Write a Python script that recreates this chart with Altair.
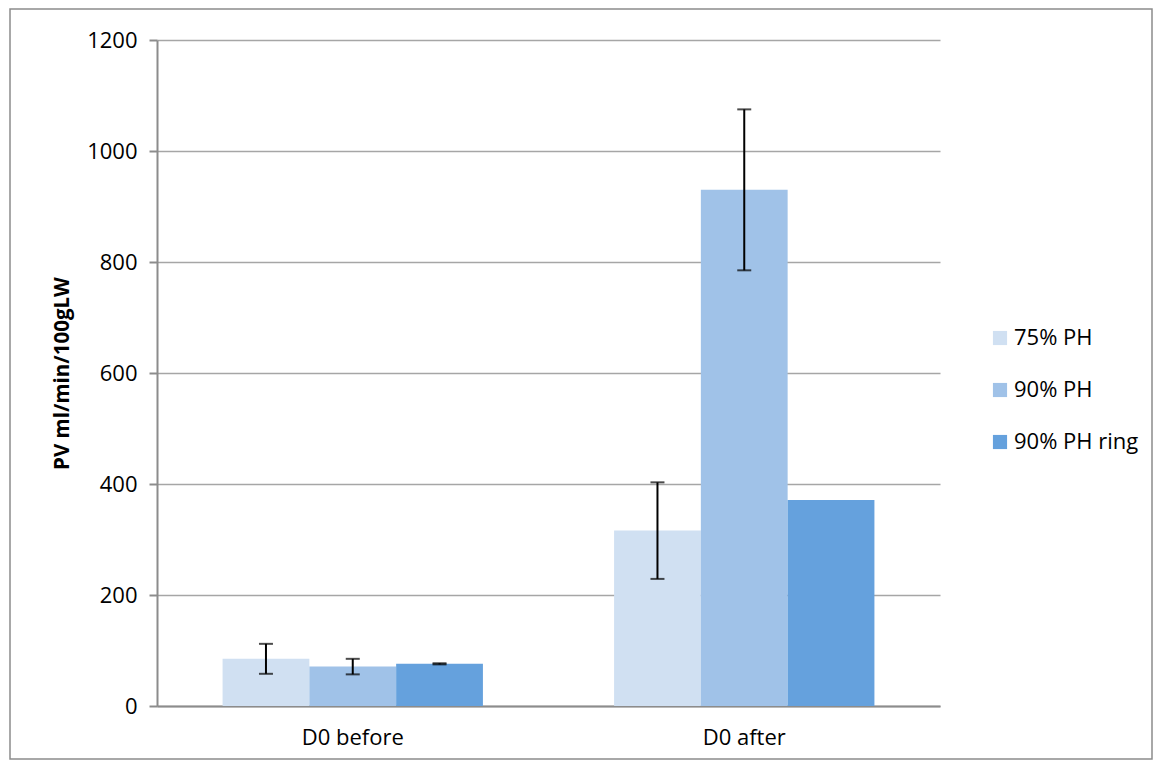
import altair as alt
import pandas as pd

groups = ["D0 before", "D0 after"]
series = ["75% PH", "90% PH", "90% PH ring"]
colors = ["#D0E0F2", "#A0C2E8", "#65A1DD"]
before_vals = [85, 71, 76]
after_vals = [316, 930, 371]
before_err = [27, 14, 1]
after_err = [87, 145, 0]

rows = []
for g, vals, errs in [(groups[0], before_vals, before_err), (groups[1], after_vals, after_err)]:
    for s, v, e in zip(series, vals, errs):
        rows.append({"group": g, "series": s, "value": v, "err": e, "lo": v - e, "hi": v + e})
df = pd.DataFrame(rows)

FONT = "Open Sans"
FS = 22

x = alt.X("group:N", sort=groups, title=None,
          scale=alt.Scale(paddingInner=0.335, paddingOuter=0.1675),
          axis=alt.Axis(labelAngle=0, labelFontSize=FS, labelColor="#000000", labelFont=FONT,
                        ticks=False, labelPadding=21, domainColor="#8C8C8C", domainWidth=2))
xoff = alt.XOffset("series:N", sort=series, scale=alt.Scale(paddingInner=0, paddingOuter=0))
yscale = alt.Scale(domain=[0, 1200])

bars = alt.Chart(df).mark_bar().encode(
    x=x, xOffset=xoff,
    y=alt.Y("value:Q", scale=yscale, title="PV ml/min/100gLW",
            axis=alt.Axis(values=[0, 200, 400, 600, 800, 1000, 1200], format="d", labelFontSize=FS,
                          labelColor="#000000", labelFont=FONT, tickSize=8, tickColor="#8C8C8C",
                          tickWidth=2, labelPadding=12, domainColor="#8C8C8C", domainWidth=2,
                          gridColor="#A6A6A6", gridWidth=1.5, titleFontSize=20.5, titleFont=FONT,
                          titleFontWeight="bold", titleColor="#000000", titleX=-95, titleY=333,
                          titleBaseline="middle", titleAngle=270)),
    color=alt.Color("series:N", sort=series, scale=alt.Scale(domain=series, range=colors),
                    legend=alt.Legend(title=None, orient="none", legendX=832, legendY=287,
                                      symbolType="square", symbolSize=200, symbolStrokeWidth=0,
                                      labelFontSize=FS, labelFont=FONT, labelColor="#000000",
                                      rowPadding=30, labelOffset=3))
)

err_base = alt.Chart(df).transform_filter("datum.err > 0")
rules = err_base.mark_rule(color="#000000", strokeWidth=2).encode(
    x=alt.X("group:N", sort=groups, bandPosition=0.5), xOffset=xoff,
    y="lo:Q", y2="hi:Q")
caps_lo = err_base.mark_tick(color="#000000", thickness=2, size=14, orient="horizontal").encode(
    x=alt.X("group:N", sort=groups, bandPosition=0.5), xOffset=xoff, y="lo:Q")
caps_hi = err_base.mark_tick(color="#000000", thickness=2, size=14, orient="horizontal").encode(
    x=alt.X("group:N", sort=groups, bandPosition=0.5), xOffset=xoff, y="hi:Q")

border = alt.Chart(pd.DataFrame({"k": [0]})).mark_rect(
    fill=None, stroke="#8C8C8C", strokeWidth=1.5, clip=False).encode(
    x=alt.value(-147), x2=alt.value(995), y=alt.value(-31), y2=alt.value(719))

chart = alt.layer(bars, rules, caps_lo, caps_hi, border).properties(
    width=783, height=666,
    autosize=alt.AutoSizeParams(type="none"),
    padding={"left": 149, "top": 32, "right": 214, "bottom": 55},
).configure_view(stroke=None).configure_axisX(grid=False)

chart.save("out.html", embed_options={"renderer": "svg", "actions": False})
